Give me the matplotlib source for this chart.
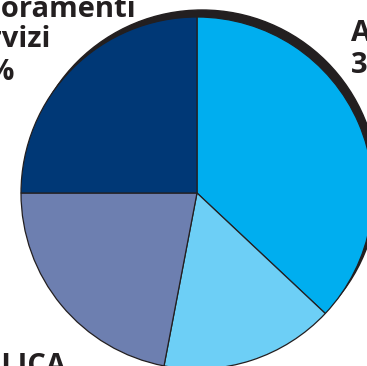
import matplotlib
matplotlib.use("Agg")
import matplotlib.pyplot as plt
from matplotlib.patches import Circle

# quote del grafico (in senso orario da ore 12)
labels = ["Assistenza", "Ricerca", "Comunicazione pubblica", "Miglioramenti servizi"]
values = [37, 16, 22, 25]
colors = ["#00AEEF", "#6DCFF6", "#6D7FB0", "#003876"]

dark = "#231F20"

fig = plt.figure(figsize=(3.67, 3.66), dpi=100)
ax = fig.add_axes([0, 0, 1, 1])

cx, cy, r = 197, 173, 176

# ombra dietro la torta
ax.add_patch(Circle((cx + 5, cy + 7), r, color=dark, zorder=0))

ax.pie(values, startangle=90, counterclock=False, center=(cx, cy), radius=r,
       colors=colors, wedgeprops=dict(edgecolor=dark, linewidth=0.9),
       normalize=True, frame=True)

fnt = dict(family="Open Sans", fontweight="bold", fontsize=21, color=dark)

# etichette tagliate dai bordi
ax.text(136, 366 - 17, "Miglioramenti", ha="right", va="baseline", **fnt)
ax.text(51, 366 - 47, "servizi", ha="right", va="baseline", **fnt)
ax.text(15, 366 - 80, "25%", ha="right", va="baseline", **fnt)

ax.text(351, 366 - 41, "Assistenza", ha="left", va="baseline", **fnt)
ax.text(351, 366 - 73, "37%", ha="left", va="baseline", **fnt)

ax.text(66, 366 - 374, "PUBBLICA", ha="right", va="baseline", **fnt)

ax.set_xlim(0, 367)
ax.set_ylim(0, 366)
ax.set_aspect("auto")
ax.axis("off")

fig.savefig("out.png", dpi=100)
